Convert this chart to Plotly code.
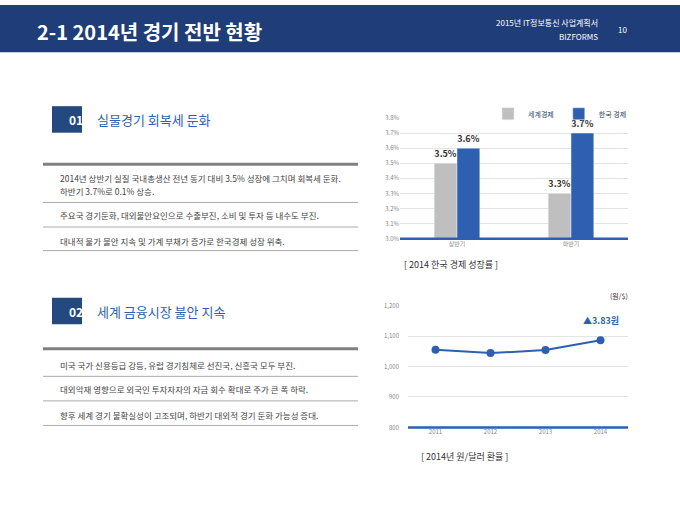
import plotly.graph_objects as go

# bar chart data
halves = ['상반기', '하반기']
world = [3.5, 3.3]
korea = [3.6, 3.7]
# line chart data
years = ['2011', '2012', '2013', '2014']
krw_usd = [1055, 1044, 1054, 1086]

W, H = 680, 510
def px(x): return x / W
def py(y): return 1 - y / H

blue = '#2e5fb0'
font = 'Noto Sans CJK KR'

fig = go.Figure()
fig.add_trace(go.Bar(x=halves, y=world, name='세계경제', marker_color='#bfbfbf',
                     text=[f'<b>{v}%</b>' for v in world], textposition='outside',
                     textfont=dict(size=9, color='#333'), xaxis='x', yaxis='y'))
fig.add_trace(go.Bar(x=halves, y=korea, name='한국 경제', marker_color=blue,
                     text=[f'<b>{v}%</b>' for v in korea], textposition='outside',
                     textfont=dict(size=9, color='#333'), xaxis='x', yaxis='y'))
fig.add_trace(go.Scatter(x=years, y=krw_usd, mode='lines+markers', showlegend=False,
                         line=dict(color=blue, width=2), marker=dict(size=8, color=blue),
                         xaxis='x2', yaxis='y2'))

ax = dict(showline=False, ticks='', tickfont=dict(size=6, color='#888'))
fig.update_layout(
    width=W, height=H, margin=dict(l=0, r=0, t=0, b=0),
    paper_bgcolor='white', plot_bgcolor='white',
    font=dict(family=font), barmode='group', bargap=0.6, bargroupgap=0,
    showlegend=True,
    legend=dict(orientation='h', x=px(632), xanchor='right', y=py(96), yanchor='top',
                font=dict(size=7), itemwidth=30, bgcolor='rgba(0,0,0,0)'),
    xaxis=dict(domain=[px(400), px(628)], anchor='y', **ax),
    yaxis=dict(domain=[py(238), py(115)], range=[3.0, 3.8], dtick=0.1, ticksuffix='%',
               tickformat='.1f', gridcolor='#e3e3e3', zeroline=False, **ax),
    xaxis2=dict(domain=[px(408), px(628)], anchor='y2', range=[-0.5, 3.5], **ax),
    yaxis2=dict(domain=[py(430), py(306)], range=[800, 1200], dtick=100,
                tickformat=',', gridcolor='#e3e3e3', zeroline=False, **ax),
)

shapes = [
    dict(type='rect', xref='paper', yref='paper', x0=0, x1=1, y0=py(48), y1=1,
         fillcolor='#1f3d78', line_width=0, layer='below'),
    dict(type='line', xref='paper', yref='paper', x0=px(400), x1=px(628), y0=py(238), y1=py(238),
         line=dict(color=blue, width=2.5)),
    dict(type='line', xref='paper', yref='paper', x0=px(408), x1=px(628), y0=py(430), y1=py(430),
         line=dict(color=blue, width=2.5)),
]
ann = [
    dict(x=px(35), y=py(27), text='<b>2-1 2014년 경기 전반 현황</b>', xanchor='left',
         font=dict(size=20, color='white')),
    dict(x=px(600), y=py(18), text='2015년 IT정보통신 사업계획서', xanchor='right',
         font=dict(size=8, color='white')),
    dict(x=px(600), y=py(32), text='BIZFORMS', xanchor='right', font=dict(size=8, color='white')),
    dict(x=px(622), y=py(25), text='10', xanchor='center', font=dict(size=8, color='white')),
    dict(x=px(500), y=py(264), text='[ 2014 한국 경제 성장률 ]', font=dict(size=9, color='#333')),
    dict(x=px(510), y=py(460), text='[ 2014년 원/달러 환율 ]', font=dict(size=9, color='#333')),
    dict(x=px(630), y=py(296), text='(원/$)', xanchor='right', font=dict(size=7, color='#333')),
    dict(x=3, y=1150, xref='x2', yref='y2', text='<b>▲3.83원</b>', showarrow=False,
         font=dict(size=9, color=blue)),
]

sections = [
    dict(num='01', title='실물경기 회복세 둔화', top=103, thick=162,
         lines=[(176, '2014년 상반기 실질 국내총생산 전년 동기 대비 3.5% 성장에 그치며 회복세 둔화.'),
                (189, '하반기 3.7%로 0.1% 상승.'),
                (214, '주요국 경기둔화, 대외불안요인으로 수출부진, 소비 및 투자 등 내수도 부진.'),
                (240, '대내적 물가 불안 지속 및 가계 부채가 증가로 한국경제 성장 위축.')],
         seps=[201, 226, 250]),
    dict(num='02', title='세계 금융시장 불안 지속', top=298, thick=350,
         lines=[(366, '미국 국가 신용등급 강등, 유럽 경기침체로 선진국, 신흥국 모두 부진.'),
                (391, '대외악재 영향으로 외국인 투자자자의 자금 회수 확대로 주가 큰 폭 하락.'),
                (417, '향후 세계 경기 불확실성이 고조되며, 하반기 대외적 경기 둔화 가능성 증대.')],
         seps=[378, 403, 428]),
]
for s in sections:
    shapes.append(dict(type='rect', xref='paper', yref='paper', x0=px(52), x1=px(82),
                       y0=py(s['top'] + 27), y1=py(s['top']), fillcolor='#24497f', line_width=0))
    ann.append(dict(x=px(67), y=py(s['top'] + 13.5), text='<b>' + s['num'] + '</b>',
                    font=dict(size=12, color='white')))
    ann.append(dict(x=px(95), y=py(s['top'] + 13.5), text=s['title'], xanchor='left',
                    font=dict(size=13, color=blue)))
    shapes.append(dict(type='line', xref='paper', yref='paper', x0=px(43), x1=px(358),
                       y0=py(s['thick']), y1=py(s['thick']), line=dict(color='#808080', width=3)))
    for y in s['seps']:
        shapes.append(dict(type='line', xref='paper', yref='paper', x0=px(43), x1=px(358),
                           y0=py(y), y1=py(y), line=dict(color='#aaaaaa', width=1)))
    for y, t in s['lines']:
        ann.append(dict(x=px(58), y=py(y), text=t, xanchor='left', font=dict(size=8.5, color='#444')))

for a in ann:
    a.setdefault('xref', 'paper')
    a.setdefault('yref', 'paper')
    a.setdefault('showarrow', False)
    a.setdefault('yanchor', 'middle')
fig.update_layout(shapes=shapes, annotations=ann)
fig.write_html('out.html', config={'displayModeBar': False})

# remove default body margin so the 680x510 figure fills the window
with open('out.html', encoding='utf-8') as f:
    page = f.read()
page = page.replace('<body>', '<body style="margin:0">', 1)
with open('out.html', 'w', encoding='utf-8') as f:
    f.write(page)
